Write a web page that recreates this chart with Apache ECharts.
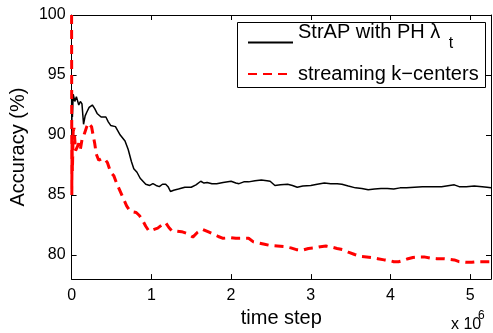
<!DOCTYPE html>
<html><head><meta charset="utf-8">
<script src="https://cdn.jsdelivr.net/npm/echarts@6/dist/echarts.min.js"></script>
<style>html,body{margin:0;padding:0;background:#fff}#c{width:493px;height:333px}</style>
</head><body><div id="c"></div>
<script>
// time step in units of 10^6
const strapName = 'StrAP with PH λ';
const strapSub = 't';
const kcName = 'streaming k−centers';

const strapX = [0, 0.003, 0.006, 0.01, 0.02, 0.04, 0.06, 0.09, 0.11, 0.13, 0.15, 0.17, 0.19, 0.22, 0.26, 0.29, 0.32, 0.37, 0.43, 0.46, 0.49, 0.55, 0.61, 0.67, 0.71, 0.75, 0.78, 0.82, 0.86, 0.93, 0.98, 1.02, 1.06, 1.10, 1.14, 1.18, 1.21, 1.24, 1.28, 1.34, 1.42, 1.50, 1.56, 1.62, 1.66, 1.70, 1.76, 1.82, 1.90, 2.00, 2.06, 2.10, 2.16, 2.22, 2.30, 2.38, 2.45, 2.49, 2.55, 2.62, 2.71, 2.77, 2.83, 2.90, 3.00, 3.08, 3.17, 3.25, 3.33, 3.39, 3.47, 3.56, 3.64, 3.72, 3.80, 3.88, 3.96, 4.04, 4.12, 4.20, 4.30, 4.40, 4.52, 4.64, 4.74, 4.80, 4.86, 4.95, 5.05, 5.15, 5.21, 5.26];
const strapY = [93.5, 90.5, 93.7, 91.5, 93.4, 92.8, 93.2, 92.5, 92.8, 92.6, 90.9, 91.6, 91.9, 92.3, 92.5, 92.2, 91.8, 91.5, 91.5, 91.1, 90.8, 90.7, 90.0, 89.5, 88.8, 87.8, 87.2, 86.9, 86.4, 85.9, 85.8, 85.95, 85.8, 85.7, 85.9, 85.9, 85.7, 85.3, 85.4, 85.5, 85.65, 85.65, 85.85, 86.15, 86.0, 86.05, 85.95, 85.95, 86.05, 86.15, 86.0, 85.95, 86.1, 86.1, 86.2, 86.25, 86.2, 86.15, 85.8, 85.85, 85.9, 85.8, 85.65, 85.75, 85.8, 85.9, 86.0, 85.95, 85.95, 85.9, 85.75, 85.6, 85.55, 85.45, 85.5, 85.55, 85.55, 85.5, 85.6, 85.6, 85.65, 85.7, 85.7, 85.7, 85.8, 85.85, 85.7, 85.7, 85.75, 85.7, 85.65, 85.6];

const kcX = [0, 0.003, 0.006, 0.01, 0.02, 0.03, 0.05, 0.07, 0.09, 0.11, 0.13, 0.15, 0.17, 0.19, 0.21, 0.23, 0.25, 0.27, 0.29, 0.31, 0.34, 0.37, 0.41, 0.45, 0.49, 0.53, 0.57, 0.61, 0.65, 0.69, 0.73, 0.77, 0.81, 0.85, 0.89, 0.93, 0.97, 1.02, 1.08, 1.13, 1.18, 1.22, 1.26, 1.32, 1.38, 1.45, 1.52, 1.58, 1.64, 1.71, 1.78, 1.84, 1.90, 2.00, 2.06, 2.14, 2.22, 2.28, 2.35, 2.42, 2.49, 2.58, 2.67, 2.75, 2.82, 2.89, 2.97, 3.05, 3.12, 3.19, 3.27, 3.33, 3.40, 3.47, 3.55, 3.62, 3.70, 3.76, 3.84, 3.92, 3.98, 4.04, 4.10, 4.16, 4.22, 4.28, 4.36, 4.42, 4.50, 4.58, 4.66, 4.74, 4.80, 4.86, 4.94, 5.02, 5.10, 5.18, 5.26];
const kcY = [100, 85.0, 89.5, 87.0, 90.3, 90.6, 88.7, 89.0, 89.3, 88.8, 89.6, 89.9, 90.3, 90.7, 91.0, 91.1, 90.7, 90.0, 89.3, 88.4, 87.9, 88.0, 88.05, 87.7, 86.9, 86.6, 85.9, 85.3, 84.7, 84.1, 83.7, 83.6, 83.55, 83.3, 82.9, 82.4, 82.0, 82.1, 82.25, 82.5, 82.7, 82.3, 82.0, 82.0, 81.95, 81.8, 81.5, 81.9, 82.15, 81.95, 81.75, 81.55, 81.4, 81.45, 81.4, 81.4, 81.4, 81.1, 81.0, 80.9, 80.8, 80.75, 80.7, 80.6, 80.45, 80.4, 80.55, 80.6, 80.7, 80.75, 80.65, 80.55, 80.45, 80.25, 80.05, 79.9, 79.85, 79.8, 79.7, 79.6, 79.55, 79.45, 79.45, 79.55, 79.7, 79.8, 79.85, 79.85, 79.75, 79.7, 79.7, 79.65, 79.6, 79.45, 79.4, 79.4, 79.45, 79.45, 79.45];

const xTicks = [0, 1, 2, 3, 4, 5];
const yTicks = [80, 85, 90, 95, 100];
const xMin = 0, xMax = 5.26, yMin = 78, yMax = 100;
const xTitle = 'time step';
const yTitle = 'Accuracy (%)';
const xScaleText = 'x 10';
const xScaleExp = '6';

const FONT = 'Liberation Sans, Arial, Helvetica, sans-serif';
const chart = echarts.init(document.getElementById('c'), null, {renderer: 'canvas'});

function axisCommon(showLabels) {
  return {
    axisLine: {show: true, onZero: false, lineStyle: {color: '#000', width: 1}},
    splitLine: {show: false},
    axisTick: {show: true, inside: true, length: 5, lineStyle: {color: '#000', width: 1}},
    axisLabel: {show: showLabels, color: '#000', fontSize: 16, fontFamily: FONT}
  };
}

const xBottom = Object.assign({type: 'value', position: 'bottom', min: xMin, max: xMax,
  name: xTitle, nameLocation: 'middle', nameGap: 22,
  nameTextStyle: {color: '#000', fontSize: 20, fontFamily: FONT, verticalAlign: 'top'}}, axisCommon(true));
xBottom.axisTick.customValues = xTicks;
xBottom.axisLabel.customValues = xTicks;
xBottom.axisLabel.margin = 8;
const xTop = Object.assign({type: 'value', position: 'top', min: xMin, max: xMax}, axisCommon(false));
xTop.axisTick.customValues = xTicks;

const yLeft = Object.assign({type: 'value', position: 'left', min: yMin, max: yMax,
  name: yTitle, nameLocation: 'middle', nameGap: 30,
  nameTextStyle: {color: '#000', fontSize: 20, fontFamily: FONT}}, axisCommon(true));
yLeft.axisTick.customValues = yTicks;
yLeft.axisLabel.customValues = yTicks;
yLeft.axisLabel.margin = 6;
const yRight = Object.assign({type: 'value', position: 'right', min: yMin, max: yMax}, axisCommon(false));
yRight.axisTick.customValues = yTicks;

const legendItemStyle = {opacity: 0, borderWidth: 0};

chart.setOption({
  animation: false,
  backgroundColor: '#fff',
  grid: {left: 56, right: 2, top: 15, bottom: 50, containLabel: false},
  xAxis: [xBottom, xTop],
  yAxis: [yLeft, yRight],
  legend: [
    {
      data: [strapName], left: 247, top: 22, padding: 0, itemWidth: 45, itemHeight: 12,
      itemStyle: legendItemStyle,
      formatter: function (n) { return '{m|' + n + ' }{s|' + strapSub + '}'; },
      textStyle: {color: '#000', fontSize: 20, fontFamily: FONT,
        rich: {
          m: {fontSize: 20, lineHeight: 20, fontFamily: FONT, color: '#000', verticalAlign: 'top', padding: [0, 0, 0, 0]},
          s: {fontSize: 16, fontFamily: FONT, color: '#000', verticalAlign: 'top', padding: [14, 0, 11, 3]}
        }}
    },
    {
      data: [kcName], left: 247, top: 64, padding: 0, itemWidth: 45, itemHeight: 12,
      itemStyle: legendItemStyle,
      textStyle: {color: '#000', fontSize: 20, lineHeight: 20, fontFamily: FONT}
    }
  ],
  graphic: [
    {type: 'rect', z: 1, shape: {x: 237.5, y: 22.5, width: 248, height: 65},
      style: {fill: '#fff', stroke: '#000', lineWidth: 1}},
    {type: 'text', z: 5, x: 451, y: 317, style: {text: xScaleText, fontSize: 16, fontFamily: FONT, fill: '#000'}},
    {type: 'text', z: 5, x: 478, y: 310, style: {text: xScaleExp, fontSize: 12, fontFamily: FONT, fill: '#000'}}
  ],
  series: [
    {
      name: strapName, type: 'line', xAxisIndex: 0, yAxisIndex: 0, symbol: 'none', showSymbol: false,
      data: strapX.map((x, i) => [x, strapY[i]]),
      lineStyle: {color: '#000', width: 1.5, type: 'solid'}, itemStyle: {color: '#000'}, z: 3
    },
    {
      name: kcName, type: 'line', xAxisIndex: 0, yAxisIndex: 0, symbol: 'none', showSymbol: false,
      data: kcX.map((x, i) => [x, kcY[i]]),
      lineStyle: {color: '#ff0000', width: 3, type: [9, 6]}, itemStyle: {color: '#ff0000'}, z: 4
    }
  ]
});
</script>
</body></html>
